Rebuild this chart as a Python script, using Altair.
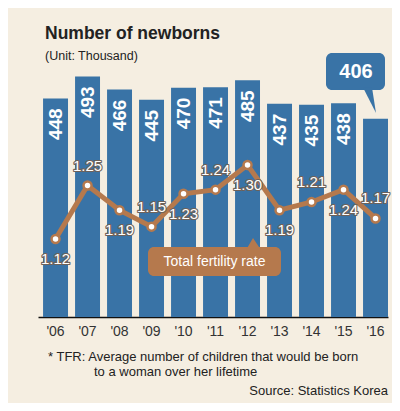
import altair as alt
import pandas as pd

# ---- data ----
years = ["'06", "'07", "'08", "'09", "'10", "'11", "'12", "'13", "'14", "'15", "'16"]
births = [448, 493, 466, 445, 470, 471, 485, 437, 435, 438, 406]
tfr = [1.12, 1.25, 1.19, 1.15, 1.23, 1.24, 1.30, 1.19, 1.21, 1.24, 1.17]

title_text = "Number of newborns"
subtitle_text = "(Unit: Thousand)"
line_label = "Total fertility rate"
note_1 = "* TFR: Average number of children that would be born"
note_2 = "to a woman over her lifetime"
source_text = "Source:  Statistics Korea"

# ---- layout / style ----
label_above = [False, True, False, True, False, True, False, False, True, False, True]
BLUE = "#3973a6"
BROWN = "#b5794d"
BG = "#f5eee1"
FONT = "Liberation Sans"

df = pd.DataFrame({
    "year": years,
    "births": births,
    "tfr": tfr,
    "above": label_above,
    "in_bar": [True] * (len(births) - 1) + [False],
})
one = pd.DataFrame({"k": [0]})

x_enc = alt.X(
    "year:N", sort=years,
    scale=alt.Scale(paddingInner=0.22, paddingOuter=0.079, align=1),
    axis=alt.Axis(title=None, labelAngle=0, ticks=False, domainColor="#111",
                  domainWidth=1.5, labelPadding=7, labelFontSize=14,
                  labelColor="#333", labelFont=FONT),
)
y_b = alt.Y("births:Q", scale=alt.Scale(domain=[0, 500], nice=False, zero=True), axis=None)
y_t = alt.Y("tfr:Q", scale=alt.Scale(domain=[0.93, 1.524], nice=False, zero=False), axis=None)

base = alt.Chart(df)

bars = base.mark_bar(color=BLUE).encode(x=x_enc, y=y_b)
bar_labels = base.transform_filter("datum.in_bar").mark_text(
    angle=270, align="right", baseline="middle", dx=-10, fontSize=19,
    fontWeight="bold", color="white", font=FONT
).encode(x=x_enc, y=y_b, text="births:Q")

# Total fertility rate tag
tag_box = alt.Chart(one).mark_rect(color=BROWN, cornerRadius=6).encode(
    x=alt.value(110), x2=alt.value(243), y=alt.value(174), y2=alt.value(203))
tag_tail = alt.Chart(one).mark_point(
    shape="M0,-0.5L0.8,0.7L-0.7,0.7Z", filled=True, color=BROWN, opacity=1,
    size=400, strokeWidth=0
).encode(x=alt.value(215), y=alt.value(170))
tag_text = alt.Chart(one).mark_text(
    text=line_label, color="white", fontSize=14, font=FONT,
    align="center", baseline="middle"
).encode(x=alt.value(176.5), y=alt.value(189))

line = base.mark_line(color=BROWN, strokeWidth=5).encode(x=x_enc, y=y_t)
points = base.mark_point(
    filled=True, fill="white", stroke=BROWN, strokeWidth=2.5, size=64, opacity=1
).encode(x=x_enc, y=y_t)


def tfr_text(cond, dy, halo):
    kw = dict(align="center", baseline="middle", dy=dy, fontSize=15, font=FONT)
    if halo:
        kw.update(stroke="#6e625a", strokeWidth=2.2, fill="#6e625a", strokeJoin="round")
    else:
        kw.update(fill="white")
    return base.transform_filter(cond).mark_text(**kw).encode(
        x=x_enc, y=y_t, text=alt.Text("tfr:Q", format=".2f"))


labels = [
    tfr_text("datum.above", -20, True),
    tfr_text("!datum.above", 20, True),
    tfr_text("datum.above", -20, False),
    tfr_text("!datum.above", 20, False),
]

# 406 callout
call_box = alt.Chart(one).mark_rect(color=BLUE, cornerRadius=6).encode(
    x=alt.value(288), x2=alt.value(347), y=alt.value(-20), y2=alt.value(17))
call_tail = alt.Chart(one).mark_point(
    shape="M-0.4,-0.9L0.2,-0.9L0.467,0.8Z", filled=True, color=BLUE, opacity=1,
    size=900, strokeWidth=0
).encode(x=alt.value(331), y=alt.value(28))
call_text = alt.Chart(one).mark_text(
    text=str(births[-1]), color="white", fontSize=20, fontWeight="bold", font=FONT,
    align="center", baseline="middle"
).encode(x=alt.value(318), y=alt.value(-1))


def txt(t, x, y, size, weight="normal", align="left", color="#222"):
    return alt.Chart(one).mark_text(
        text=t, fontSize=size, fontWeight=weight, align=align,
        baseline="alphabetic", color=color, font=FONT
    ).encode(x=alt.value(x), y=alt.value(y))


texts = [
    txt(title_text, 7, -34, 17.5, "bold"),
    txt(subtitle_text, 7, -13, 12.5),
    txt(note_1, 10, 288, 13),
    txt(note_2, 56, 302.5, 13),
    txt(source_text, 350, 322, 13, align="right"),
]

chart = alt.layer(
    bars, bar_labels, tag_box, tag_tail, tag_text, line, points, *labels,
    call_box, call_tail, call_text, *texts
).resolve_scale(y="independent").properties(
    width=350, height=244,
    autosize="none",
    padding={"left": 30, "top": 65, "right": 4, "bottom": 86},
    background=BG,
).configure_view(stroke=None)

chart.save("out.html", embed_options={"renderer": "svg", "actions": False})
